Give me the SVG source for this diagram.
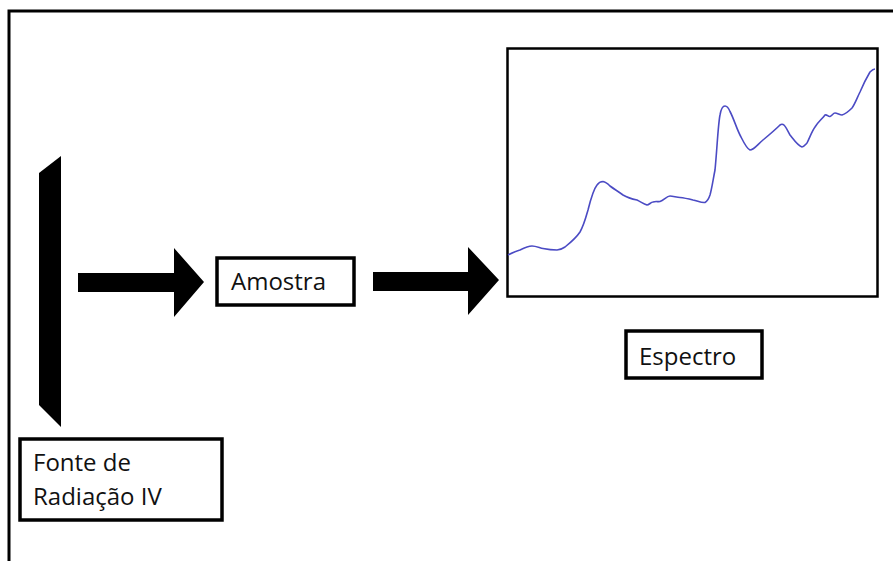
<svg xmlns="http://www.w3.org/2000/svg" width="893" height="561" viewBox="0 0 893 561">
<style>
.box{fill:#fff;stroke:#000;stroke-width:3.5}
.lbl{font-family:"Open Sans","Liberation Sans",sans-serif;font-size:24px;fill:#111}
.arr{fill:#000}
</style>
<rect x="0" y="0" width="893" height="561" fill="#fff"/>
<g id="frame">
<path d="M9,561 V11 H893" fill="none" stroke="#000" stroke-width="3"/>
</g>
<g id="fonte-bar">
<polygon points="39,173 61,156 61,427 39,405" fill="#000"/>
</g>
<g id="fonte">
<rect class="box" x="20" y="439" width="202" height="81"/>
<text class="lbl" x="33" y="471">Fonte de</text>
<text class="lbl" x="33" y="505">Radiação IV</text>
</g>
<g id="amostra">
<rect class="box" x="217" y="258" width="137" height="47"/>
<text class="lbl" x="231" y="290">Amostra</text>
</g>
<g id="espectro-grafico">
<rect x="507.5" y="48.5" width="370" height="248" fill="#fff" stroke="#000" stroke-width="2.5"/>
<path fill="none" stroke="#4b4bc4" stroke-width="1.6" stroke-linejoin="round" d="M508,255 C512,253 516,251 520,250 C524,248 528,246 532,246 C536,246 540,248 543,248.5 C548,249.5 552,250 557,250 C560,250 562,249 565,247 C570,243 576,238 580,232 C584,225 586,217 588,210 C591,198 593,190 597,185 C599,182 601,181.5 603,181.5 C606,182 608,184 610,186 C614,189 619,192 623,195 C628,198 632,199 637,200 C641,202 644,204 647,205 C649,205 651,202 653,202 C656,201 658,202 660,201.5 C664,200 667,196 670,196 C673,196 677,197.5 680,197.5 C685,198 689,199 693,200 C698,201 701,203 705,202.5 C708,201 709,198 710,195 C712,188 713,180 715,170 C717,150 718,125 720,115 C721,109 723,106 725,106 C727,106 729,109 730,111.5 C734,119 737,130 741,137 C744,143 747,149 750,150 C754,150 758,144 763,140 C769,135 775,130 780,125 C784,122 786,128 790,135 C794,140 798,146 802,147 C804,147 805,145 807,143 C810,137 812,131 815,127 C818,122 822,119 825,115 C827,114 828,117 830,116.5 C832,116 833,113 835,113 C837,113 840,115 842,115 C846,114 849,111 852,108 C855,104 857,98 860,92 C863,85 867,77 870,72 C872,70 873,69 875,69"/>
</g>
<g id="espectro">
<rect class="box" x="626" y="331" width="136" height="47"/>
<text class="lbl" x="639" y="365">Espectro</text>
</g>
<g id="connectors">
<polygon class="arr" points="78,273 174,273 174,248 204,282 174,317 174,292 78,292"/>
<polygon class="arr" points="373,272 468,272 468,247 499,280 468,315 468,291 373,291"/>
</g>
</svg>
